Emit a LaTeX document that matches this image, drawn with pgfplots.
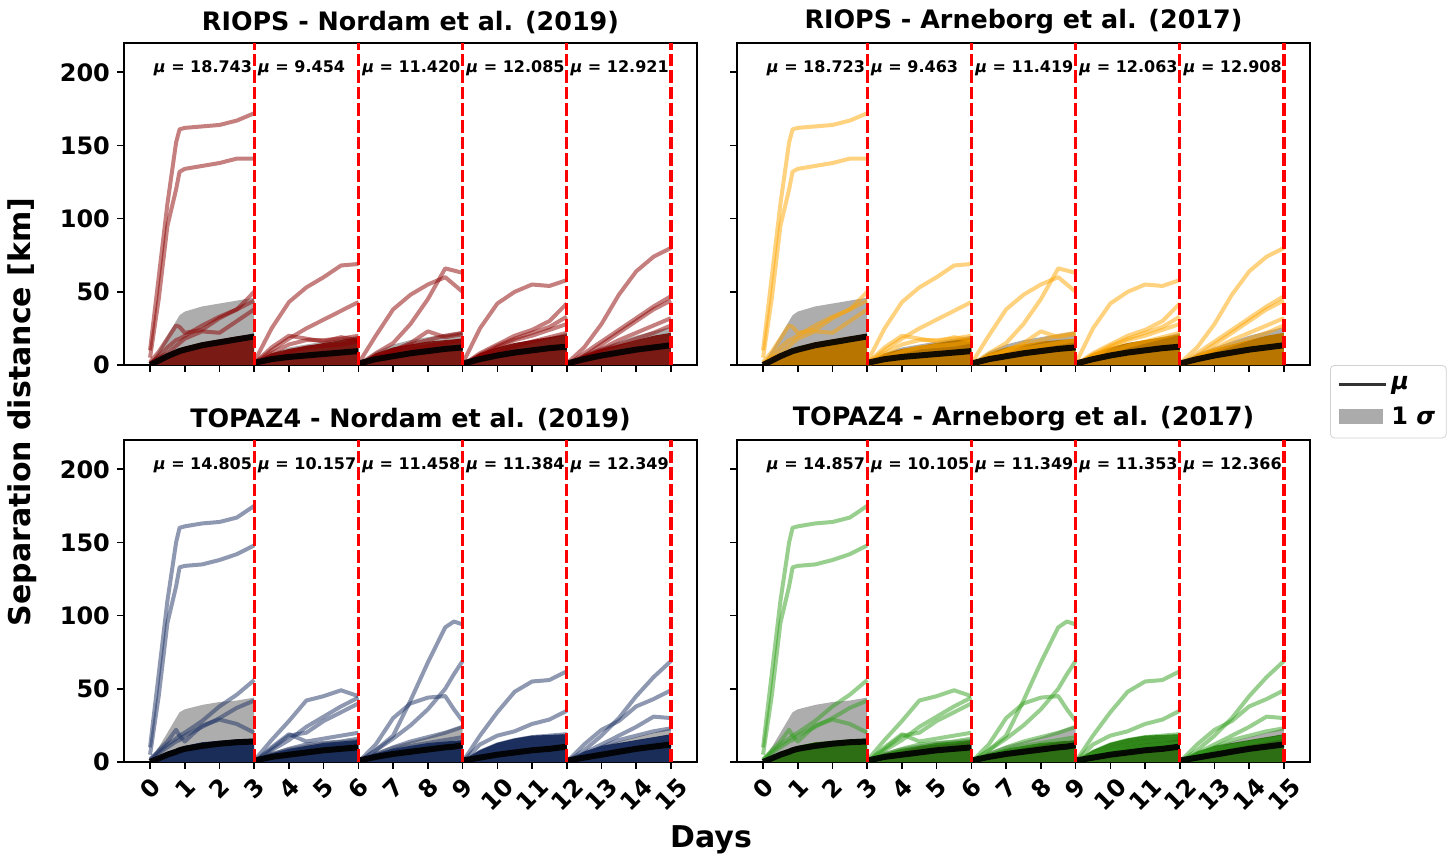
\documentclass[border=0pt]{standalone}
\usepackage{fontspec}
\setmainfont{DejaVu Sans}
\usepackage{graphicx}
\usepackage{pgfplots}
\usepackage{pgfplotstable}
\pgfplotsset{compat=1.18}
\usepgfplotslibrary{groupplots}

\definecolor{rline}{RGB}{139,0,0}
\definecolor{rfill}{RGB}{122,26,20}
\definecolor{oline}{RGB}{255,165,0}
\definecolor{ofill}{RGB}{184,118,0}
\definecolor{bline}{RGB}{30,50,100}
\definecolor{bfill}{RGB}{26,45,88}
\definecolor{gline}{RGB}{50,160,30}
\definecolor{gfill}{RGB}{45,110,20}

% RIOPS
\pgfplotstableread{
x     m     h     f     a    b    c   d   e
0     0     1     0     10   5    2   1   1
0.25  3     10    4     60   45   9   6   5
0.5   6     20    8     110  95   18  12  8
0.75  8.5   30    10.5  152  120  27  17  13
0.85  9.5   34    11.5  161  132  26  18  15
1     10.5  36.5  12.5  162  134  22  20  18
1.5   13.5  40    15.5  163  136  24  27  23
2     15.5  42    17.5  164  138  32  33  22
2.5   17.5  44    19.5  167  141  38  38  30
3     19.5  46    21    172  141  50  44  38
}\RsegA
\pgfplotstableread{
x    m    h    f    a   b   c   d   e
3    1.5  2    2    2   1   1   1   0
3.5  4    8    8    25  10  12  8   5
4    5.5  12   11   43  18  20  14  9
4.5  6.5  14   13   53  25  18  17  12
5    7.5  16   15   60  31  16  17  13
5.5  8.5  18   17   68  37  19  18  14
6    9.5  20   19   69  43  17  20  16
}\RsegB
\pgfplotstableread{
x    m    h    f    a   b   c   d   e
6    1    1    1    1   0   0   0   0
6.5  4    9    8    20  8   5   6   4
7    6    14   12   38  15  10  10  8
7.5  8    17   14   48  28  15  14  11
8    9.5  19   16   55  45  23  17  13
8.5  11   21   17   60  66  19  20  15
9    12   23   18   50  63  21  22  17
}\RsegC
\pgfplotstableread{
x    m    h    f    a   b   c   d   e
9    1    1    1    1   0   0   0   0
9.5  4    8    8    25  8   7   6   5
10   6.5  12   12   42  14  13  12  9
10.5 8.5  15   15   50  20  18  17  13
11   10   17   17   55  24  22  20  16
11.5 11.5 19   19   54  30  26  24  19
12   12.5 22   21   58  42  33  28  22
}\RsegD
\pgfplotstableread{
x    m    h    f    a   b   c   d   e
12   1    1    1    1   0   0   0   0
12.5 4    8    7    12  8   6   5   5
13   6.5  12   11   28  16  14  11  10
13.5 8.5  16   14   48  24  22  17  14
14   10.5 20   17   64  32  30  22  18
14.5 12   23   20   74  40  38  27  22
15   13.5 26   22   80  47  44  32  27
}\RsegE

% TOPAZ4
\pgfplotstableread{
x     m     h     f     a    b    c   d   e
0     0     1     0     10   5    2   1   1
0.25  2.5   10    3.5   60   45   7   6   8
0.5   5     20    7     110  95   12  10  14
0.75  7     30    9     150  120  16  14  22
0.85  8     34    10    160  133  18  15  18
1     9     36    11    161  134  20  18  14
1.5   11    39    13.5  163  135  28  24  25
2     12.5  41    14.5  164  138  38  30  29
2.5   13.5  42    15.5  167  142  46  37  26
3     14    44    16    175  148  56  42  20
}\TsegA
\pgfplotstableread{
x    m    h    f    a   b   c   d   e
3    1    1    1    1   0   0   0   0
3.5  3.5  7    6    15  8   9   10  5
4    5    10   9    28  15  18  19  9
4.5  6.5  12   11   42  24  20  14  12
5    8    14   13   45  31  28  16  13
5.5  9    15   14   49  38  34  18  14
6    10   16   15   45  44  40  20  16
}\TsegB
\pgfplotstableread{
x    m    h    f    a   b   c   d   e
6    1    1    1    0   0   0   0   0
6.5  3.5  7    6    8   8   12  5   4
7    5.5  11   9    18  16  30  10  8
7.5  7    14   11   42  25  40  14  11
8    8.5  17   13   68  36  44  17  13
8.5  10   21   14   92  50  45  20  15
8.75 10.5 23   14.5 96  60  36  22  16
9    11.5 25   15   94  69  28  24  17
}\TsegC
\pgfplotstableread{
x    m    h    f    a   b   c   d   e
9    1    1    1    0   0   0   0   0
9.5  3    8    8    18  12  7   5   4
10   5    13   13   34  18  12  9   7
10.5 6.5  16   16   48  21  15  12  9
11   8    18   18   55  26  17  14  11
11.5 9    18.5 18.5 56  29  18  15  12
12   10.5 19   19   62  35  19  17  13
}\TsegD
\pgfplotstableread{
x    m    h    f    a   b   c   d   e
12   1    1    1    0   0   0   0   0
12.5 3    7    7    8   12  6   5   4
13   5    11   11   18  22  12  10  8
13.5 7    14   13   30  28  18  15  11
14   9    17   15   45  38  24  18  13
14.5 10.5 20   17   58  43  31  21  15
15   12   23   19   69  49  30  23  17
}\TsegE

\newcommand{\seg}[3]{%
  \addplot[draw=none, fill=black, fill opacity=0.32, forget plot] table[x=x,y=h]{#1} \closedcycle;
  \addplot[draw=none, fill=#3, forget plot] table[x=x,y=f]{#1} \closedcycle;
  \addplot[traj, #2] table[x=x,y=a]{#1};
  \addplot[traj, #2] table[x=x,y=b]{#1};
  \addplot[traj, #2] table[x=x,y=c]{#1};
  \addplot[traj, #2] table[x=x,y=d]{#1};
  \addplot[traj, #2] table[x=x,y=e]{#1};
  \addplot[black, draw opacity=0.9, line width=3pt, forget plot] table[x=x,y=m]{#1};
}
\newcommand{\panel}[7]{%
  \seg{#1}{#6}{#7}\seg{#2}{#6}{#7}\seg{#3}{#6}{#7}\seg{#4}{#6}{#7}\seg{#5}{#6}{#7}%
}
\newcommand{\mus}[5]{%
  \addplot[vred] coordinates {(3,0) (3,220)};
  \addplot[vred] coordinates {(6,0) (6,220)};
  \addplot[vred] coordinates {(9,0) (9,220)};
  \addplot[vred] coordinates {(12,0) (12,220)};
  \addplot[vred] coordinates {(15,0) (15,220)};
  \node[mulab] at (axis cs:0.1,203) {\textit{μ} = #1};
  \node[mulab] at (axis cs:3.1,203) {\textit{μ} = #2};
  \node[mulab] at (axis cs:6.1,203) {\textit{μ} = #3};
  \node[mulab] at (axis cs:9.1,203) {\textit{μ} = #4};
  \node[mulab] at (axis cs:12.1,203) {\textit{μ} = #5};
}

\pgfplotsset{
  traj/.style={draw opacity=0.5, line width=2pt, line join=round, forget plot},
  vred/.style={red, line width=1.6pt, dash pattern=on 6.3pt off 2pt, forget plot},
}
\tikzset{mulab/.style={anchor=west, inner sep=0pt, font=\bfseries\fontsize{8}{10}\selectfont}}

\begin{document}
\begin{tikzpicture}
\begin{groupplot}[
  group style={group size=2 by 2, horizontal sep=20pt, vertical sep=37.5pt,
    xticklabels at=edge bottom, yticklabels at=edge left},
  scale only axis, width=286.5pt, height=161pt,
  xmin=-0.75, xmax=15.75, ymin=0, ymax=220,
  xtick={0,...,15}, ytick={0,50,100,150,200},
  xtick pos=bottom, ytick pos=left, tick align=outside,
  major tick length=3.5pt,
  every tick/.style={black, line width=0.8pt},
  axis line style={line width=0.8pt},
  /pgf/number format/assume math mode=true,
  tick label style={font=\bfseries\fontsize{12}{14}\selectfont},
  xticklabel={\rotatebox{45}{\pgfmathprintnumber{\tick}}},
  xticklabel style={anchor=north},
  title style={font=\bfseries\fontsize{12.7}{15}\selectfont, yshift=-5pt},
]
\nextgroupplot[title={RIOPS - Nordam et al. (2019)}]
\panel{\RsegA}{\RsegB}{\RsegC}{\RsegD}{\RsegE}{rline}{rfill}
\mus{18.743}{9.454}{11.420}{12.085}{12.921}

\nextgroupplot[title={RIOPS - Arneborg et al. (2017)},
  legend style={at={(1,0)}, anchor=north west, xshift=10pt, draw=black!18,
    rounded corners=2pt, font=\bfseries\fontsize{12}{14}\selectfont,
    inner sep=3.5pt, row sep=3pt},
  legend cell align=left]
\panel{\RsegA}{\RsegB}{\RsegC}{\RsegD}{\RsegE}{oline}{ofill}
\mus{18.723}{9.463}{11.419}{12.063}{12.908}
\addlegendimage{legend image code/.code={\draw[black!80, line width=1.5pt, sharp corners] (0pt,0pt) -- (23.5pt,0pt);}}
\addlegendentry{\textit{μ}}
\addlegendimage{legend image code/.code={\fill[black!33, sharp corners] (0pt,-3.5pt) rectangle (21.5pt,3.5pt);}}
\addlegendentry{1 \textit{σ}}

\nextgroupplot[title={TOPAZ4 - Nordam et al. (2019)}]
\panel{\TsegA}{\TsegB}{\TsegC}{\TsegD}{\TsegE}{bline}{bfill}
\mus{14.805}{10.157}{11.458}{11.384}{12.349}

\nextgroupplot[title={TOPAZ4 - Arneborg et al. (2017)}]
\panel{\TsegA}{\TsegB}{\TsegC}{\TsegD}{\TsegE}{gline}{gfill}
\mus{14.857}{10.105}{11.349}{11.353}{12.366}
\end{groupplot}
\node[rotate=90, font=\bfseries\fontsize{15}{18}\selectfont]
  at ([shift={(-51pt,-23.5pt)}]group c1r1.south west) {Separation distance [km]};
\node[font=\bfseries\fontsize{15}{18}\selectfont]
  at ([shift={(293.5pt,-237.5pt)}]group c1r1.south west) {Days};
\pgfresetboundingbox
\path ([shift={(-62pt,182.5pt)}]group c1r1.south west) rectangle ([shift={(665pt,-245.5pt)}]group c1r1.south west);
\end{tikzpicture}
\end{document}
